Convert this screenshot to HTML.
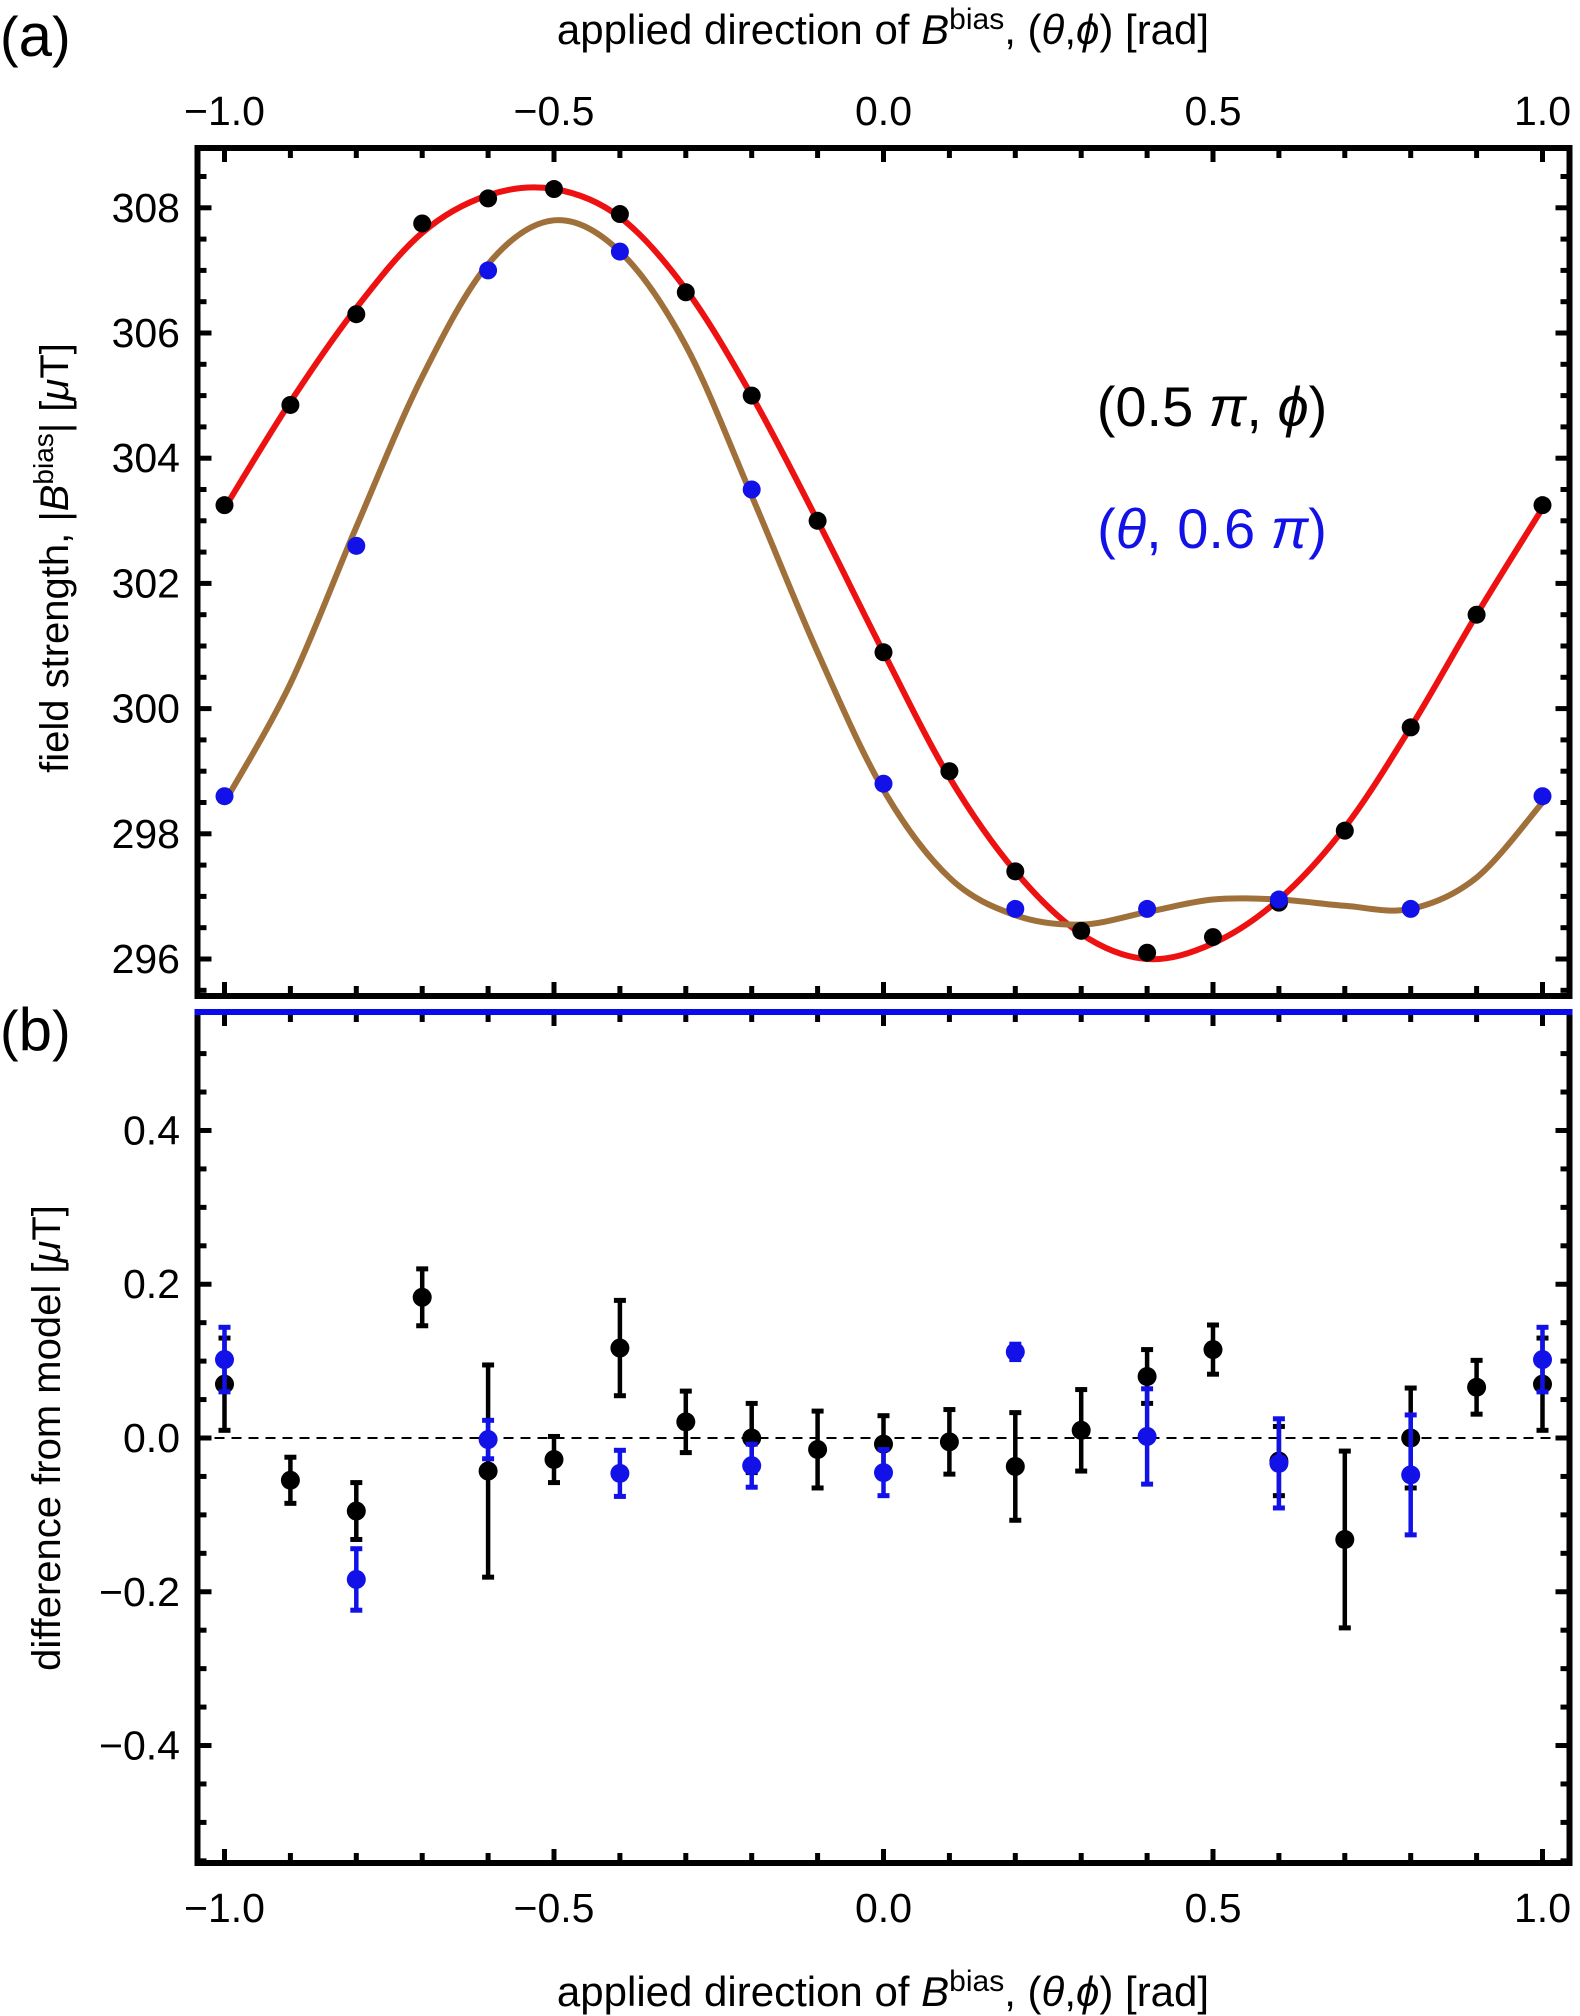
<!DOCTYPE html>
<html><head><meta charset="utf-8"><style>
html,body{margin:0;padding:0;background:#fff}
svg{display:block}
text{font-family:"Liberation Sans",sans-serif}
</style></head><body>
<svg id="chart" width="1580" height="2016" viewBox="0 0 1580 2016" xmlns="http://www.w3.org/2000/svg">
<g id="g"></g>
</svg>
<script>
const xs = [-1,-0.9,-0.8,-0.7,-0.6,-0.5,-0.4,-0.3,-0.2,-0.1,0,0.1,0.2,0.3,0.4,0.5,0.6,0.7,0.8,0.9,1.0];
const blackA = [303.25,304.85,306.3,307.75,308.15,308.3,307.9,306.65,305.0,303.0,300.9,299.0,297.4,296.45,296.1,296.35,296.9,298.05,299.7,301.5,303.25];
const blueX = [-1,-0.8,-0.6,-0.4,-0.2,0,0.2,0.4,0.6,0.8,1.0];
const blueA = [298.6,302.6,307.0,307.3,303.5,298.8,296.8,296.8,296.95,296.8,298.6];
const redFit = [303.2,304.9,306.4,307.6,308.2,308.3,307.85,306.7,305.0,303.0,300.9,298.9,297.4,296.4,296.0,296.25,296.95,298.1,299.7,301.5,303.2];
const brownFit = [298.5,300.4,302.9,305.3,307.1,307.8,307.3,305.8,303.4,300.9,298.7,297.3,296.7,296.55,296.75,296.95,296.95,296.85,296.8,297.3,298.5];
const blackB = [0.07,-0.055,-0.095,0.183,-0.043,-0.028,0.117,0.021,0.0,-0.015,-0.008,-0.005,-0.037,0.01,0.08,0.115,-0.03,-0.132,0.0,0.066,0.07];
const blackBErr = [0.06,0.03,0.037,0.037,0.138,0.03,0.062,0.04,0.045,0.05,0.037,0.042,0.07,0.053,0.035,0.032,0.045,0.115,0.065,0.035,0.06];
const blueB = [0.102,-0.184,-0.002,-0.046,-0.036,-0.045,0.112,0.002,-0.033,-0.048,0.102];
const blueBErr = [0.042,0.04,0.025,0.03,0.028,0.03,0.01,0.062,0.058,0.078,0.042];
const xTickLabels = ["\u22121.0","\u22120.5","0.0","0.5","1.0"];
const xTickVals = [-1,-0.5,0,0.5,1];
const yTicksA = [296,298,300,302,304,306,308];
const yTicksB = [-0.4,-0.2,0.0,0.2,0.4];
const yTickLabelsB = ["\u22120.4","\u22120.2","0.0","0.2","0.4"];

const NS="http://www.w3.org/2000/svg";
const g=document.getElementById('g');
const BLUE='#1212e8';
function el(tag,attrs,parent){const e=document.createElementNS(NS,tag);for(const k in attrs)e.setAttribute(k,attrs[k]);(parent||g).appendChild(e);return e;}
const L=197.5,R=1569.5;
const X=v=>883.5+659*v;
const YA=v=>959-(v-296)*62.6;
const YB=v=>1438-768.8*v;
const topA=148,botA=996,topB=1012,botB=1863;

function smooth(vals,xsArr,yf){let pts=xsArr.map((x,i)=>[X(x),yf(vals[i])]);let d=`M${pts[0][0]},${pts[0][1]}`;
 for(let i=0;i<pts.length-1;i++){const p0=pts[Math.max(0,i-1)],p1=pts[i],p2=pts[i+1],p3=pts[Math.min(pts.length-1,i+2)];
 const c1=[p1[0]+(p2[0]-p0[0])/6,p1[1]+(p2[1]-p0[1])/6],c2=[p2[0]-(p3[0]-p1[0])/6,p2[1]-(p3[1]-p1[1])/6];
 d+=` C${c1[0]},${c1[1]} ${c2[0]},${c2[1]} ${p2[0]},${p2[1]}`;}return d;}

const tA=el('g',{});


for(let i=-10;i<=10;i++){const v=i/10,x=X(v),len=(i%5===0)?14:10;
 el('line',{x1:x,y1:topA,x2:x,y2:topA+len,stroke:'#000','stroke-width':5},tA);
 el('line',{x1:x,y1:botA,x2:x,y2:botA-len,stroke:'#000','stroke-width':5},tA);
 el('line',{x1:x,y1:topB,x2:x,y2:topB+len,stroke:'#000','stroke-width':5},tA);
 el('line',{x1:x,y1:botB,x2:x,y2:botB-len,stroke:'#000','stroke-width':5},tA);}
for(let v=295.5;v<=309;v+=0.5){const y=YA(v);if(y<topA||y>botA)continue;const len=(v%2===0)?14:9;
 el('line',{x1:L,y1:y,x2:L+len,y2:y,stroke:'#000','stroke-width':5},tA);
 el('line',{x1:R,y1:y,x2:R-len,y2:y,stroke:'#000','stroke-width':5},tA);}
for(let i=-11;i<=11;i++){const v=i*0.05,y=YB(v);if(y<topB+4||y>botB)continue;const len=(i%4===0)?14:9;
 el('line',{x1:L,y1:y,x2:L+len,y2:y,stroke:'#000','stroke-width':5},tA);
 el('line',{x1:R,y1:y,x2:R-len,y2:y,stroke:'#000','stroke-width':5},tA);}

const fa=el('rect',{x:L,y:topA,width:R-L,height:botA-topA,fill:'none',stroke:'#000','stroke-width':6});


const fb=el('path',{d:`M${L},${topB} L${L},${botB} L${R},${botB} L${R},${topB}`,fill:'none',stroke:'#000','stroke-width':6});


const bl=el('line',{x1:L-3,y1:topB,x2:R+3,y2:topB,stroke:'#0a0aee','stroke-width':6});



xTickVals.forEach((v,i)=>{
 const t1=el('text',{x:X(v),y:125,'font-size':41,'text-anchor':'middle'});t1.textContent=xTickLabels[i];
 
 
 const t2=el('text',{x:X(v),y:1922,'font-size':41,'text-anchor':'middle'});t2.textContent=xTickLabels[i];
 
 });
yTicksA.forEach(v=>{const t=el('text',{x:180,y:YA(v)+14,'font-size':41,'text-anchor':'end'});t.textContent=v;
 
 });
yTicksB.forEach((v,i)=>{const t=el('text',{x:180,y:YB(v)+14,'font-size':41,'text-anchor':'end'});t.textContent=yTickLabelsB[i];
 
 });

const rc=el('path',{d:smooth(redFit,xs,YA),fill:'none',stroke:'#ee1111','stroke-width':6});


const bc=el('path',{d:smooth(brownFit,xs,YA),fill:'none',stroke:'#a0703a','stroke-width':6});


xs.forEach((x,i)=>{const c=el('circle',{cx:X(x),cy:YA(blackA[i]),r:9,fill:'#000'});
 
 });
blueX.forEach((x,i)=>{const c=el('circle',{cx:X(x),cy:YA(blueA[i]),r:9,fill:BLUE});
 
 });

const zl=el('line',{x1:L,y1:YB(0),x2:R,y2:YB(0),stroke:'#000','stroke-width':2,'stroke-dasharray':'10,7'});


function errpt(x,v,e,col,name){const gg=el('g',{});
 
 
 const cx=X(x),y1=YB(v+e),y2=YB(v-e);
 el('line',{x1:cx,y1:y1,x2:cx,y2:y2,stroke:col,'stroke-width':4.5},gg);
 el('line',{x1:cx-6,y1:y1,x2:cx+6,y2:y1,stroke:col,'stroke-width':5},gg);
 el('line',{x1:cx-6,y1:y2,x2:cx+6,y2:y2,stroke:col,'stroke-width':5},gg);
 el('circle',{cx:cx,cy:YB(v),r:9.5,fill:col},gg);}
xs.forEach((x,i)=>errpt(x,blackB[i],blackBErr[i],'#000','black-residual'));
blueX.forEach((x,i)=>errpt(x,blueB[i],blueBErr[i],BLUE,'blue-residual'));

function txt(x,y,html,attrs,name){const t=el('text',Object.assign({x:x,y:y,'font-size':38},attrs||{}));t.innerHTML=html;
 
 return t;}
const xt='applied direction of <tspan font-style="italic">B</tspan><tspan font-size="30" dy="-15">bias</tspan><tspan dy="15">, (</tspan><tspan font-style="italic">θ</tspan>,<tspan font-style="italic">ϕ</tspan>) [rad]';
txt(883,44,xt,{'text-anchor':'middle','font-size':42},'top-x-axis-title');
txt(883,2006,xt,{'text-anchor':'middle','font-size':42},'bottom-x-axis-title');
txt(0,56,'(<tspan font-size="60">a</tspan>)',{'font-size':56},'panel-a-label');
txt(0,1050,'(<tspan font-size="60">b</tspan>)',{'font-size':56},'panel-b-label');
txt(0,0,'field strength, |<tspan font-style="italic">B</tspan><tspan font-size="28" dy="-15">bias</tspan><tspan dy="15">| [</tspan><tspan font-style="italic">μ</tspan>T]',{'text-anchor':'middle',transform:'translate(68,558) rotate(-90)','font-size':40},'y-axis-title-a');
txt(0,0,'difference from model [<tspan font-style="italic">μ</tspan>T]',{'text-anchor':'middle',transform:'translate(60,1438) rotate(-90)','font-size':40},'y-axis-title-b');
txt(1212,426,'(0.5 <tspan font-style="italic">π</tspan>, <tspan font-style="italic">ϕ</tspan>)',{'text-anchor':'middle','font-size':56},'annotation-black');
txt(1212,548,'(<tspan font-style="italic">θ</tspan>, 0.6 <tspan font-style="italic">π</tspan>)',{'text-anchor':'middle','font-size':56,fill:BLUE},'annotation-blue');
</script>
</body></html>
